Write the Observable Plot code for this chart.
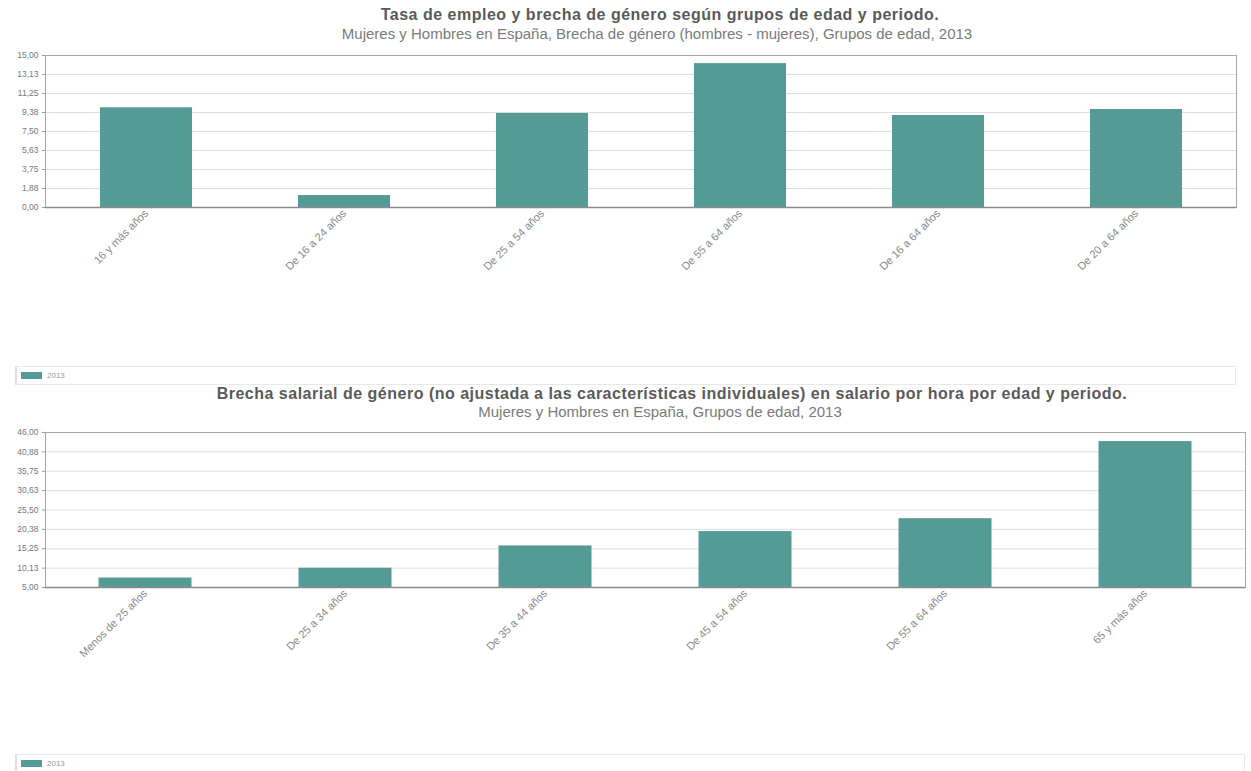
<!DOCTYPE html>
<html>
<head>
<meta charset="utf-8">
<script src="https://cdn.jsdelivr.net/npm/d3@7"></script>
<script src="https://cdn.jsdelivr.net/npm/@observablehq/plot@0.6"></script>
<style>
  html, body { margin: 0; padding: 0; background: #fff; overflow: hidden; }
  body { width: 1251px; height: 771px; position: relative; font-family: "Liberation Sans", Arial, sans-serif; }
  .title { position: absolute; width: 2000px; text-align: center; font-weight: bold; font-size: 16px; line-height: 18px; letter-spacing: 0.5px; color: #5a5a5a; white-space: nowrap; }
  .subtitle { position: absolute; width: 2000px; text-align: center; font-size: 15px; line-height: 17px; color: #7a7a7a; white-space: nowrap; }
  .chart { position: absolute; left: 0; }
  .legend { position: absolute; left: 15px; width: 1221px; border: 1px solid #e8e8e8; border-left: 2px solid #e0e0e0; box-sizing: border-box; }
  .legend .sw { position: absolute; left: 4px; width: 21px; height: 7px; background: #549b96; }
  .legend .lab { position: absolute; left: 30px; font-size: 8px; color: #999; }
</style>
</head>
<body>
<div class="title" id="t1" style="top:6px;left:-340px"></div>
<div class="subtitle" id="s1" style="top:25px;left:-343px"></div>
<div class="chart" id="c1" style="top:45px"></div>
<div class="legend" style="top:366px;height:19px"><div class="sw" style="top:5px"></div><div class="lab" style="top:4px" id="l1"></div></div>
<div class="title" id="t2" style="top:385px;left:-328px"></div>
<div class="subtitle" id="s2" style="top:403px;left:-340px"></div>
<div class="chart" id="c2" style="top:422px"></div>
<div class="legend" style="top:754px;height:19px;width:1230px"><div class="sw" style="top:5px"></div><div class="lab" style="top:4px" id="l2"></div></div>
<script>
// ---- data ----
const title1 = "Tasa de empleo y brecha de género según grupos de edad y periodo.";
const subtitle1 = "Mujeres y Hombres en España, Brecha de género (hombres - mujeres), Grupos de edad, 2013";
const cat1 = ["16 y más años", "De 16 a 24 años", "De 25 a 54 años", "De 55 a 64 años", "De 16 a 64 años", "De 20 a 64 años"];
const val1 = [9.84, 1.18, 9.28, 14.2, 9.08, 9.67];
const ticks1 = [0, 1.875, 3.75, 5.625, 7.5, 9.375, 11.25, 13.125, 15];
const tickLabels1 = ["0,00", "1,88", "3,75", "5,63", "7,50", "9,38", "11,25", "13,13", "15,00"];

const title2 = "Brecha salarial de género (no ajustada a las características individuales) en salario por hora por edad y periodo.";
const subtitle2 = "Mujeres y Hombres en España, Grupos de edad, 2013";
const cat2 = ["Menos de 25 años", "De 25 a 34 años", "De 35 a 44 años", "De 45 a 54 años", "De 55 a 64 años", "65 y más años"];
const val2 = [7.5, 10.1, 16.0, 19.8, 23.2, 43.6];
const ticks2 = [5, 10.125, 15.25, 20.375, 25.5, 30.625, 35.75, 40.875, 46];
const tickLabels2 = ["5,00", "10,13", "15,25", "20,38", "25,50", "30,63", "35,75", "40,88", "46,00"];

const seriesName = "2013";
const barColor = "#549b96";

document.getElementById("t1").textContent = title1;
document.getElementById("s1").textContent = subtitle1;
document.getElementById("t2").textContent = title2;
document.getElementById("s2").textContent = subtitle2;
document.getElementById("l1").textContent = seriesName;
document.getElementById("l2").textContent = seriesName;

function makeChart(cats, vals, ticks, labels, opts) {
  const data = cats.map((c, i) => ({cat: c, value: vals[i]}));
  const base = ticks[0];
  return Plot.plot({
    width: 1251,
    height: opts.height,
    marginTop: 10,
    marginBottom: opts.marginBottom,
    marginLeft: 45,
    marginRight: opts.marginRight,
    style: {fontFamily: "Liberation Sans, Arial, sans-serif", background: "transparent", color: "#777", overflow: "visible"},
    x: {domain: cats, padding: 0, label: null},
    y: {domain: [ticks[0], ticks[ticks.length - 1]], label: null},
    marks: [
      Plot.gridY(ticks, {stroke: "#dedede", strokeOpacity: 1}),
      Plot.barY(data, {x: "cat", y1: () => base, y2: "value", fill: barColor, insetLeft: opts.inset, insetRight: opts.inset}),
      Plot.frame({stroke: "#a8a8a8"}),
      Plot.ruleY([base], {stroke: "#8a8a8a", strokeWidth: 1.6}),
      Plot.axisY(ticks, {tickFormat: d => labels[ticks.indexOf(d)], fontSize: 8.5, tickSize: 3, tickPadding: 4, stroke: "#999", fill: "#777"}),
      Plot.axisX({tickRotate: -45, tickSize: 0, tickPadding: 4, fontSize: 11, fill: "#888"})
    ]
  });
}

document.getElementById("c1").append(makeChart(cat1, val1, ticks1, tickLabels1, {height: 315, marginBottom: 153, marginRight: 15, inset: 53}));
document.getElementById("c2").append(makeChart(cat2, val2, ticks2, tickLabels2, {height: 328, marginBottom: 163, marginRight: 6, inset: 53.5}));
</script>
</body>
</html>
